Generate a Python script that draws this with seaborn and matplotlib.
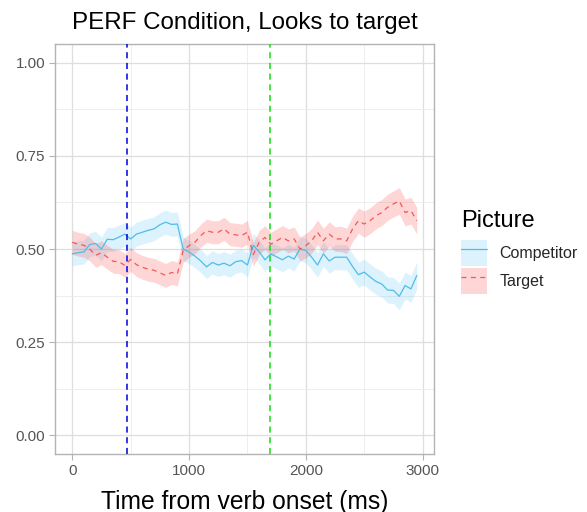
import matplotlib
matplotlib.use("Agg")
import matplotlib.pyplot as plt
import seaborn as sns
import pandas as pd
from matplotlib.patches import Patch
from matplotlib.lines import Line2D
from matplotlib.ticker import MultipleLocator

time_ms = [0, 50, 100, 150, 200, 250, 300, 350, 400, 450,
           500, 550, 600, 650, 700, 750, 800, 850, 900, 950,
           1000, 1050, 1100, 1150, 1200, 1250, 1300, 1350, 1400, 1450,
           1500, 1550, 1600, 1650, 1700, 1750, 1800, 1850, 1900, 1950,
           2000, 2050, 2100, 2150, 2200, 2250, 2300, 2350, 2400, 2450,
           2500, 2550, 2600, 2650, 2700, 2750, 2800, 2850, 2900, 2950]

competitor = [0.487, 0.490, 0.492, 0.512, 0.515, 0.500, 0.526, 0.525, 0.532, 0.540,
              0.527, 0.540, 0.545, 0.550, 0.554, 0.565, 0.572, 0.566, 0.567, 0.500,
              0.492, 0.481, 0.468, 0.452, 0.464, 0.457, 0.462, 0.455, 0.466, 0.469,
              0.457, 0.510, 0.493, 0.471, 0.487, 0.479, 0.471, 0.481, 0.473, 0.500,
              0.496, 0.478, 0.457, 0.487, 0.468, 0.478, 0.478, 0.478, 0.453, 0.431,
              0.438, 0.425, 0.413, 0.406, 0.390, 0.389, 0.373, 0.402, 0.393, 0.429]

target = [0.518, 0.513, 0.510, 0.500, 0.483, 0.490, 0.478, 0.467, 0.466, 0.456,
          0.472, 0.458, 0.451, 0.446, 0.443, 0.436, 0.429, 0.437, 0.433, 0.496,
          0.509, 0.518, 0.536, 0.549, 0.545, 0.545, 0.554, 0.540, 0.538, 0.536,
          0.545, 0.485, 0.518, 0.531, 0.513, 0.522, 0.531, 0.522, 0.527, 0.500,
          0.509, 0.522, 0.545, 0.522, 0.540, 0.527, 0.527, 0.522, 0.554, 0.576,
          0.567, 0.576, 0.589, 0.598, 0.612, 0.621, 0.629, 0.598, 0.603, 0.576]

half_width = [0.032, 0.032, 0.032, 0.032, 0.032, 0.032, 0.032, 0.032, 0.032, 0.032,
              0.032, 0.032, 0.032, 0.032, 0.032, 0.032, 0.032, 0.032, 0.032, 0.032,
              0.031, 0.031, 0.031, 0.031, 0.031, 0.031, 0.031, 0.031, 0.031, 0.031,
              0.032, 0.032, 0.032, 0.032, 0.032, 0.032, 0.032, 0.032, 0.032, 0.032,
              0.033, 0.033, 0.033, 0.033, 0.033, 0.033, 0.034, 0.034, 0.034, 0.034,
              0.035, 0.035, 0.035, 0.035, 0.035, 0.035, 0.036, 0.036, 0.036, 0.036]

pictures = ["Competitor", "Target"]
verb_marker_ms = 470
target_marker_ms = 1690

line_colors = {"Competitor": "#4FBDEA", "Target": "#F0585A"}
fill_colors = {"Competitor": "#33B5F0", "Target": "#FF4040"}
fill_alpha = {"Competitor": 0.17, "Target": 0.21}

rows = []
for pic, vals in zip(pictures, [competitor, target]):
    for t, v, h in zip(time_ms, vals, half_width):
        rows.append({"time": t, "prop": v, "lo": v - h, "hi": v + h, "Picture": pic})
df = pd.DataFrame(rows)

sns.set_style("white")
plt.rcParams["font.family"] = ["Liberation Sans", "DejaVu Sans"]

fig = plt.figure(figsize=(5.87, 5.12), dpi=100)
ax = fig.add_axes([0.0937, 0.1133, 0.7394 - 0.0937, 0.914 - 0.1133])

for pic in pictures:
    sub = df[df["Picture"] == pic]
    ax.fill_between(sub["time"], sub["lo"], sub["hi"], color=fill_colors[pic],
                    alpha=fill_alpha[pic], linewidth=0, zorder=2)

sns.lineplot(data=df, x="time", y="prop", hue="Picture", style="Picture",
             palette=line_colors, dashes={"Competitor": "", "Target": (4, 3.5)},
             linewidth=0.9, legend=False, ax=ax, zorder=3)

ax.axvline(verb_marker_ms, color="#0000DD", linestyle=(0, (4, 3)), linewidth=1.1, zorder=4)
ax.axvline(target_marker_ms, color="#11DD11", linestyle=(0, (4, 3)), linewidth=1.1, zorder=4)

ax.set_xlim(-147.5, 3097.5)
ax.set_ylim(-0.05, 1.05)
ax.set_xticks([0, 1000, 2000, 3000])
ax.set_yticks([0.0, 0.25, 0.5, 0.75, 1.0])
ax.set_yticklabels(["0.00", "0.25", "0.50", "0.75", "1.00"])
ax.xaxis.set_minor_locator(MultipleLocator(500))
ax.yaxis.set_minor_locator(MultipleLocator(0.125))
ax.grid(which="major", color="#DEDEDE", linewidth=0.9, zorder=0)
ax.grid(which="minor", color="#EBEBEB", linewidth=0.6, zorder=0)
ax.set_axisbelow(True)
for s in ax.spines.values():
    s.set_color("#B3B3B3")
    s.set_linewidth(1.0)
ax.tick_params(axis="both", which="major", length=4, width=0.8, color="#B3B3B3",
               labelsize=11, labelcolor="#555555", pad=3, bottom=True, left=True)
ax.tick_params(axis="both", which="minor", length=0)

ax.set_xlabel("Time from verb onset (ms)", fontsize=17.7, color="black", labelpad=8.5)
ax.set_ylabel("")
ax.set_title("PERF Condition, Looks to target", fontsize=17.4, color="black", pad=11)

handles = []
for pic in pictures:
    patch = Patch(facecolor=fill_colors[pic], alpha=fill_alpha[pic], edgecolor="none")
    ln = Line2D([], [], color=line_colors[pic], linewidth=0.9,
                linestyle="-" if pic == "Competitor" else (0, (4, 3.5)))
    handles.append((patch, ln))

fig.text(461 / 587, 1 - 227 / 512, "Picture", fontsize=17, color="black",
         ha="left", va="baseline")
leg = fig.legend(handles, pictures, loc="upper left",
                 bbox_to_anchor=(461 / 587, 1 - 240 / 512), frameon=False, fontsize=11.5,
                 handlelength=1.6, handleheight=2.12,
                 labelspacing=0.12, handletextpad=0.8,
                 borderaxespad=0.0, borderpad=0.0)

fig.savefig("out.png", dpi=100)
